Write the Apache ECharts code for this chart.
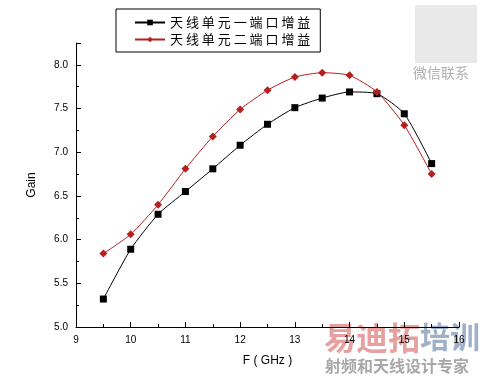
<!DOCTYPE html>
<html>
<head>
<meta charset="utf-8">
<script src="https://cdn.jsdelivr.net/npm/echarts@6/dist/echarts.min.js"></script>
<style>
html,body{margin:0;padding:0;background:#fff;}
#chart{width:483px;height:381px;}
</style>
</head>
<body>
<div id="chart"></div>
<script>
var freq = [9.5, 10, 10.5, 11, 11.5, 12, 12.5, 13, 13.5, 14, 14.5, 15, 15.5];
var gain1 = [5.32, 5.89, 6.29, 6.55, 6.81, 7.08, 7.32, 7.51, 7.62, 7.69, 7.67, 7.44, 6.87];
var gain2 = [5.84, 6.06, 6.40, 6.81, 7.18, 7.49, 7.71, 7.86, 7.91, 7.88, 7.69, 7.31, 6.75];
var seriesNames = ['天线单元一 端口 增益', '天线单元二 端口 增益'];
var xTitle = 'F ( GHz )';
var yTitle = 'Gain';

function pairs(xs, ys){ return xs.map(function(x,i){ return [x, ys[i]]; }); }
function spaced(s){ return s.replace(/ /g, '').split('').join(' '); }

var chart = echarts.init(document.getElementById('chart'));
var font = 'Liberation Sans, Arial, sans-serif';
chart.setOption({
  animation: false,
  backgroundColor: '#fff',
  grid: {left: 76, right: 24, top: 43, bottom: 54},
  legend: {
    left: 116, top: 9,
    orient: 'vertical',
    itemGap: 4,
    itemWidth: 30, itemHeight: 7,
    padding: [7, 10, 6, 18],
    borderColor: '#000', borderWidth: 1,
    textStyle: {fontFamily: 'Noto Sans CJK SC', fontSize: 13, color: '#000'},
    formatter: function(n){ return spaced(n); },
    data: seriesNames
  },
  xAxis: {
    type: 'value', min: 9, max: 16, interval: 1,
    name: xTitle, nameLocation: 'middle', nameGap: 28,
    nameTextStyle: {fontFamily: font, fontSize: 12, color: '#000'},
    axisLine: {lineStyle: {color: '#000', width: 1}},
    axisTick: {inside: true, length: 5, lineStyle: {color: '#000'}},
    minorTick: {show: true, splitNumber: 2, length: 3, lineStyle: {color: '#000'}},
    axisLabel: {fontFamily: font, fontSize: 10, color: '#000', margin: 8},
    splitLine: {show: false}
  },
  yAxis: {
    type: 'value', min: 5, max: 8.25, interval: 0.5,
    name: yTitle, nameLocation: 'middle', nameGap: 38, nameRotate: 90,
    nameTextStyle: {fontFamily: font, fontSize: 12, color: '#000'},
    axisLine: {show: true, lineStyle: {color: '#000', width: 1}},
    axisTick: {inside: true, length: 5, lineStyle: {color: '#000'}},
    minorTick: {show: true, splitNumber: 2, length: 3, lineStyle: {color: '#000'}},
    axisLabel: {fontFamily: font, fontSize: 10, color: '#000', margin: 8, showMaxLabel: false,
      formatter: function(v){ return v.toFixed(1); }},
    splitLine: {show: false}
  },
  series: [
    {
      name: seriesNames[0], type: 'line', data: pairs(freq, gain1),
      smooth: 0.2, symbol: 'rect', symbolSize: 7,
      lineStyle: {color: '#000', width: 1},
      itemStyle: {color: '#000'}
    },
    {
      name: seriesNames[1], type: 'line', data: pairs(freq, gain2),
      smooth: 0.2, symbol: 'diamond', symbolSize: 8,
      lineStyle: {color: '#b51f1f', width: 1},
      itemStyle: {color: '#b51f1f'}
    }
  ],
  graphic: [
    {type: 'rect', left: 415, top: 5, shape: {width: 62, height: 58}, style: {fill: '#c8c8c8', opacity: 0.4}, silent: true},
    {type: 'text', left: 413, top: 66, style: {text: '微信联系', font: '14px "Noto Sans CJK SC"', fill: '#b0b0b0'}, silent: true},
    {type: 'text', left: 324, top: 322, style: {text: '易迪拓', font: 'bold 32px "Noto Sans CJK SC"', fill: '#e7a0a0'}, silent: true},
    {type: 'text', left: 420, top: 322, style: {text: '培训', font: 'bold 30px "Noto Sans CJK SC"', fill: '#9fb0c8'}, silent: true},
    {type: 'text', left: 325, top: 358, style: {text: '射频和天线设计专家', font: 'bold 16px "Noto Sans CJK SC"', fill: '#a8a8a8'}, silent: true}
  ]
});
</script>
</body>
</html>
